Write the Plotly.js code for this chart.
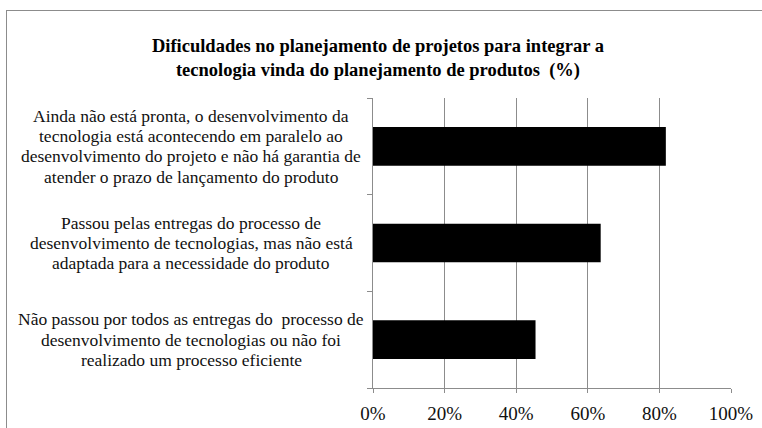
<!DOCTYPE html>
<html>
<head>
<meta charset="utf-8">
<script src="https://cdn.plot.ly/plotly-3.0.1.min.js"></script>
<style>
html,body{margin:0;padding:0;background:#fff;}
#wrap{position:relative;width:762px;height:428px;overflow:hidden;}
#frame{position:absolute;left:6px;top:10px;width:760px;height:420px;border-left:1px solid #8c8c8c;border-top:1px solid #8c8c8c;pointer-events:none;}
#chart{position:absolute;left:0;top:0;width:762px;height:428px;}
</style>
</head>
<body>
<div id="wrap"><div id="chart"></div><div id="frame"></div></div>
<script>
// Data (bottom to top order for the horizontal bar chart)
const categories = [
  "Não passou por todos as entregas do  processo de<br>desenvolvimento de tecnologias ou não foi<br>realizado um processo eficiente",
  "Passou pelas entregas do processo de<br>desenvolvimento de tecnologias, mas não está<br>adaptada para a necessidade do produto",
  "Ainda não está pronta, o desenvolvimento da<br>tecnologia está acontecendo em paralelo ao<br>desenvolvimento do projeto e não há garantia de<br>atender o prazo de lançamento do produto"
];
const values = [0.454, 0.636, 0.818];
const tickVals = [0, 0.2, 0.4, 0.6, 0.8, 1.0];
const tickText = ["0%", "20%", "40%", "60%", "80%", "100%"];
const titleText = "Dificuldades no planejamento de projetos para integrar a<br>tecnologia vinda do planejamento de produtos  (%)";

const SERIF = 'Liberation Serif';
const LINE_GAP = 20.3;

const trace = {
  type: 'bar',
  orientation: 'h',
  x: values,
  y: categories,
  marker: {color: '#000000', line: {width: 0}},
  hoverinfo: 'none'
};

// one annotation per label line, centred on its category
const annotations = [];
categories.forEach(c => {
  const lines = c.split('<br>');
  const n = lines.length;
  lines.forEach((ln, i) => {
    annotations.push({
      xref: 'paper', yref: 'y',
      x: -0.508, y: c,
      text: ln,
      showarrow: false,
      xanchor: 'center', yanchor: 'middle',
      yshift: ((n - 1) / 2 - i) * LINE_GAP,
      font: {family: SERIF, size: 17.5, color: '#111'}
    });
  });
});

const layout = {
  width: 762, height: 428,
  margin: {l: 373, r: 31, t: 98, b: 40, pad: 0},
  paper_bgcolor: 'rgba(0,0,0,0)',
  plot_bgcolor: 'rgba(0,0,0,0)',
  showlegend: false,
  bargap: 0.6,
  font: {family: SERIF},
  title: {
    text: titleText,
    x: 0.496, xref: 'container', xanchor: 'center',
    y: 0.879, yref: 'container', yanchor: 'middle',
    font: {family: SERIF, size: 18.5, color: '#000', weight: 'bold'}
  },
  xaxis: {
    range: [0, 1],
    tickvals: tickVals, ticktext: tickText,
    showgrid: true, gridcolor: '#8c8c8c', gridwidth: 1,
    showline: true, linecolor: '#8c8c8c', linewidth: 1,
    ticks: 'outside', ticklen: 4, tickcolor: '#8c8c8c',
    ticklabelstandoff: 4,
    zeroline: false,
    tickfont: {family: SERIF, size: 19, color: '#111'},
    fixedrange: true
  },
  yaxis: {
    type: 'category',
    showticklabels: false,
    showgrid: false,
    showline: true, linecolor: '#8c8c8c', linewidth: 1,
    ticks: 'outside', ticklen: 5, tickcolor: '#8c8c8c',
    tickson: 'boundaries',
    zeroline: false,
    fixedrange: true
  },
  annotations: annotations
};

Plotly.newPlot('chart', [trace], layout, {displayModeBar: false, staticPlot: true});
</script>
</body>
</html>
